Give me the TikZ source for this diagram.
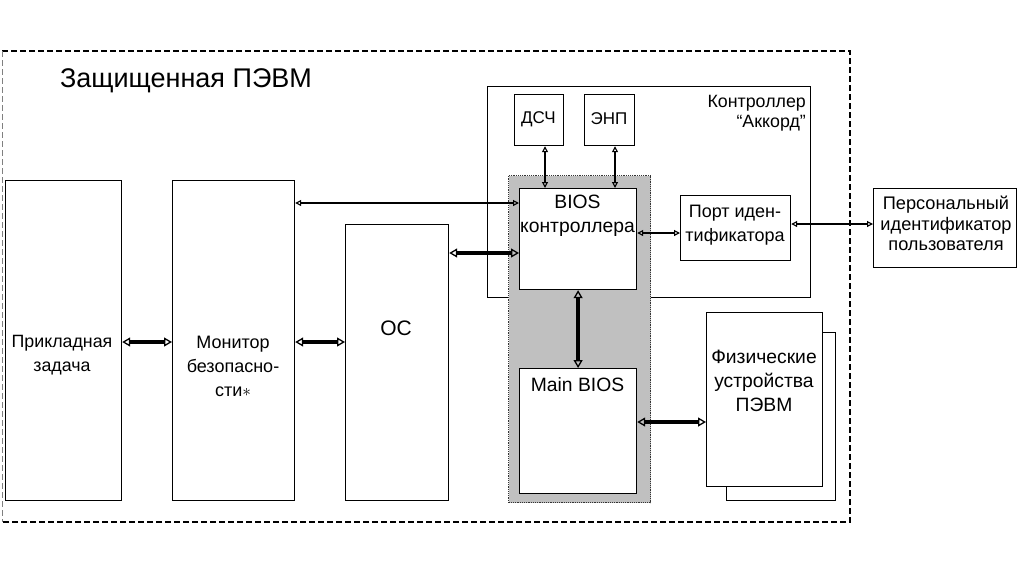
\documentclass[tikz,border=0pt]{standalone}
\usepackage{fontspec}
\setmainfont{Liberation Sans}
\usetikzlibrary{arrows.meta}
\definecolor{zonegray}{RGB}{192,192,192}
\tikzset{
  box/.style={draw=black, line width=1.2pt, fill=white, inner sep=0pt, anchor=north west},
  txt/.style={inner sep=0pt, align=center, font=\fontsize{18}{24}\selectfont},
  bigtxt/.style={txt, font=\fontsize{19.3}{24}\selectfont},
  thinarr/.style={line width=1.2pt, {Triangle[open,length=6pt,width=6pt,line width=1.1pt]}-{Triangle[open,length=6pt,width=6pt,line width=1.1pt]}},
  thickarr/.style={line width=4pt, {Triangle[open,length=8pt,width=9pt,line width=1.3pt]}-{Triangle[open,length=8pt,width=9pt,line width=1.3pt]}},
}
\begin{document}
\begin{tikzpicture}[x=1pt,y=-1pt]
\useasboundingbox (0,0) rectangle (1024,574);
% outer frame
\draw[line width=1.6pt, dash pattern=on 6pt off 3pt] (2,51) -- (850,51) -- (850,522) -- (2,522);
\draw[gray, line width=0.8pt, dash pattern=on 6pt off 3pt] (2,51) -- (2,522);
\node[txt, font=\fontsize{27}{32}\selectfont, anchor=center] (title) at (186,81) {Защищенная ПЭВМ};
% controller box
\node[box, minimum width=323pt, minimum height=211pt] (ctrl) at (487,86) {};
\node[txt, align=right, font=\fontsize{17.8}{20}\selectfont, anchor=east] (ctrltxt) at (806,113) {Контроллер\\“Аккорд”};
% gray BIOS zone
\node[draw=black!80, fill=zonegray, line width=1.2pt, densely dotted, inner sep=0pt, anchor=north west, minimum width=142pt, minimum height=327pt] (zone) at (508,175) {};
% left boxes
\node[box, minimum width=116pt, minimum height=320pt] (app) at (5,180) {};
\node[txt, font=\fontsize{17.8}{24}\selectfont] (apptxt) at (62,355) {Прикладная\\задача};
\node[box, minimum width=122pt, minimum height=320pt] (mon) at (172,180) {};
\node[txt] (montxt) at (233,366) {Монитор\\безопасно-\\сти$\ast$};
\node[box, minimum width=103pt, minimum height=276pt] (os) at (345,224) {};
\node[txt, font=\fontsize{21}{24}\selectfont] (ostxt) at (396,328) {ОС};
% controller internals
\node[box, minimum width=49pt, minimum height=51pt] (dsch) at (514,94) {};
\node[txt, font=\fontsize{17}{24}\selectfont] (dschtxt) at (538.5,119) {ДСЧ};
\node[box, minimum width=50pt, minimum height=51pt] (enp) at (584,94) {};
\node[txt, font=\fontsize{17}{24}\selectfont] (enptxt) at (609,119) {ЭНП};
\node[box, minimum width=117pt, minimum height=101pt] (bios) at (519,188) {};
\node[bigtxt] (biostxt) at (577.5,216) {BIOS\\контроллера};
\node[box, minimum width=117pt, minimum height=125pt] (mainbios) at (519,368) {};
\node[bigtxt] (mainbiostxt) at (577.5,385) {Main BIOS};
\node[box, minimum width=110pt, minimum height=65pt] (port) at (680,195) {};
\node[txt] (porttxt) at (735,225) {Порт иден-\\тификатора};
% personal identifier
\node[box, minimum width=143pt, minimum height=79pt] (pid) at (873,188) {};
\node[txt, font=\fontsize{18.2}{20.5}\selectfont] (pidtxt) at (946,223.5) {Персональный\\идентификатор\\пользователя};
% physical devices
\node[box, minimum width=109pt, minimum height=168pt] (physback) at (726,332) {};
\node[box, minimum width=116pt, minimum height=174pt] (phys) at (706,312) {};
\node[bigtxt] (phystxt) at (764,381) {Физические\\устройства\\ПЭВМ};
% connectors
\draw[thickarr] (app.east |- 0,342) -- (mon.west |- 0,342);
\draw[thickarr] (mon.east |- 0,342) -- (os.west |- 0,342);
\draw[thinarr] (mon.east |- 0,203) -- (bios.west |- 0,203);
\draw[thickarr] (os.east |- 0,253) -- (bios.west |- 0,253);
\draw[thinarr] (dsch.south -| 545,0) -- (bios.north -| 545,0);
\draw[thinarr] (enp.south -| 615,0) -- (bios.north -| 615,0);
\draw[thinarr] (bios.east |- 0,233) -- (port.west |- 0,233);
\draw[thinarr] (port.east |- 0,224) -- (pid.west |- 0,224);
\draw[thickarr] (bios.south) -- (mainbios.north);
\draw[thickarr] (mainbios.east |- 0,422) -- (phys.west |- 0,422);
\end{tikzpicture}
\end{document}
